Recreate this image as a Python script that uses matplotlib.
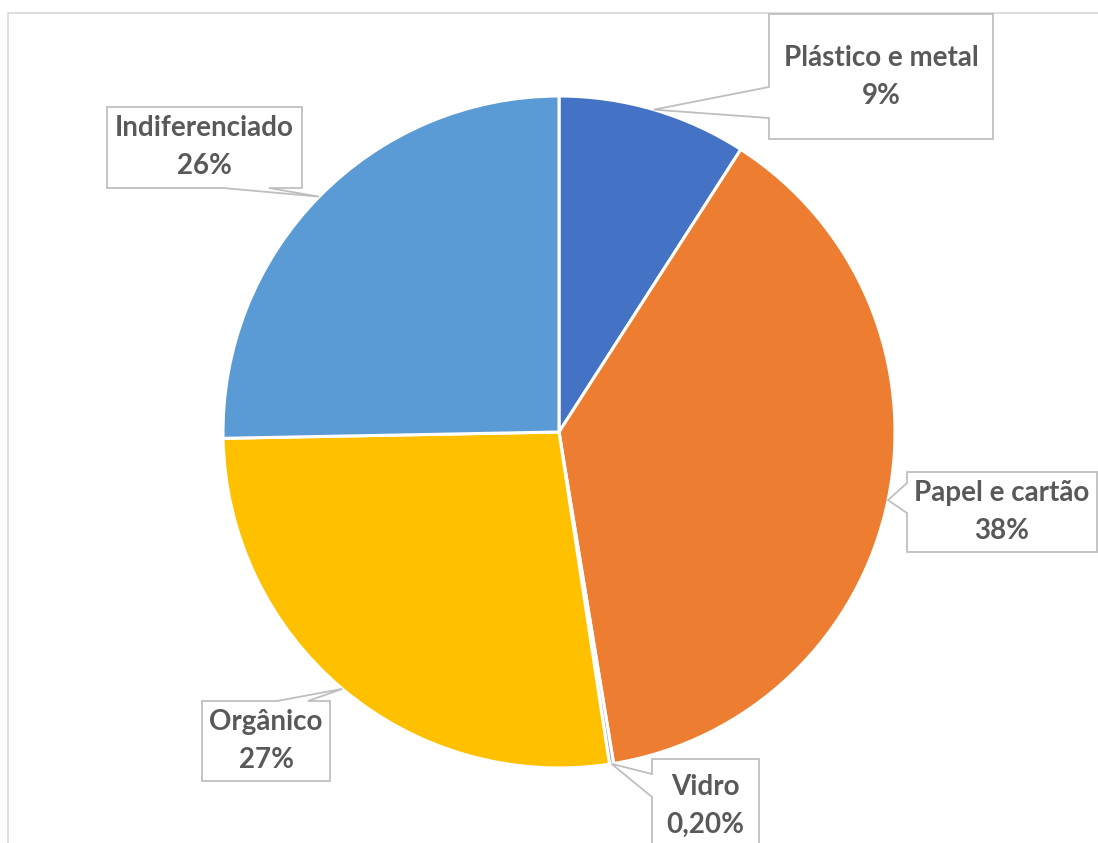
import numpy as np
import matplotlib.pyplot as plt
from matplotlib.patches import Polygon, Rectangle

W, H = 1098, 843

# slices, clockwise from the top
names = ["Plástico e metal", "Papel e cartão", "Vidro", "Orgânico", "Indiferenciado"]
shares = [9.1, 38.3, 0.2, 27.1, 25.3]
pct_labels = ["9%", "38%", "0,20%", "27%", "26%"]
colors = ["#4472C4", "#ED7D31", "#A5A5A5", "#FFC000", "#5B9BD5"]

# label boxes in pixels from top-left: (x0, y0, x1, y1), side of the pointer, pointer base
boxes = {
    "Plástico e metal": ((769, 14, 993, 139), "left", (87, 118)),
    "Papel e cartão": ((907, 472, 1097, 552), "left", (483, 513)),
    "Vidro": ((652, 759, 759, 853), "left", (774, 797)),
    "Orgânico": ((202, 701, 330, 781), "top", (277, 308)),
    "Indiferenciado": ((107, 107, 302, 188), "bottom", (223, 269)),
}

cx, cy, r = 559, 432, 336
Y = lambda py: H - py

fig = plt.figure(figsize=(W / 100, H / 100), dpi=100)
ax = fig.add_axes([0, 0, 1, 1])

# chart frame
ax.add_patch(Rectangle((8, -20), W + 20, Y(13) + 20, fill=False, ec="#D9D9D9", lw=1.2, zorder=0))

wedges, _ = ax.pie(shares, colors=colors, startangle=90, counterclock=False,
                   center=(cx, Y(cy)), radius=r, frame=True,
                   wedgeprops=dict(edgecolor="white", linewidth=2.2))
ax.set_xlim(0, W)
ax.set_ylim(0, H)
ax.set_aspect("equal")
ax.axis("off")


def callout(box, side, base, tip):
    x0, y0, x1, y1 = box
    b1, b2 = base
    if side == "left":
        pts = [(x0, y0), (x1, y0), (x1, y1), (x0, y1), (x0, b2), tip, (x0, b1)]
    elif side == "top":
        pts = [(x0, y0), (b1, y0), tip, (b2, y0), (x1, y0), (x1, y1), (x0, y1)]
    else:
        pts = [(x0, y0), (x1, y0), (x1, y1), (b2, y1), tip, (b1, y1), (x0, y1)]
    return [(px, Y(py)) for px, py in pts]


for w, name, pct in zip(wedges, names, pct_labels):
    mid = np.deg2rad((w.theta1 + w.theta2) / 2)
    tip = (cx + r * np.cos(mid), cy - r * np.sin(mid))
    box, side, base = boxes[name]
    ax.add_patch(Polygon(callout(box, side, base, tip), closed=True, fc="white",
                         ec="#BFBFBF", lw=1.3, zorder=5))
    x0, y0, x1, y1 = box
    tx, ty = (x0 + x1) / 2, (y0 + y1) / 2
    ax.text(tx, Y(ty - 19), name, ha="center", va="center", fontsize=20,
            fontweight="bold", color="#595959", family="Lato", zorder=6)
    ax.text(tx, Y(ty + 19), pct, ha="center", va="center", fontsize=20,
            fontweight="bold", color="#595959", family="Lato", zorder=6)

fig.savefig("out.png", dpi=100, facecolor="white")
